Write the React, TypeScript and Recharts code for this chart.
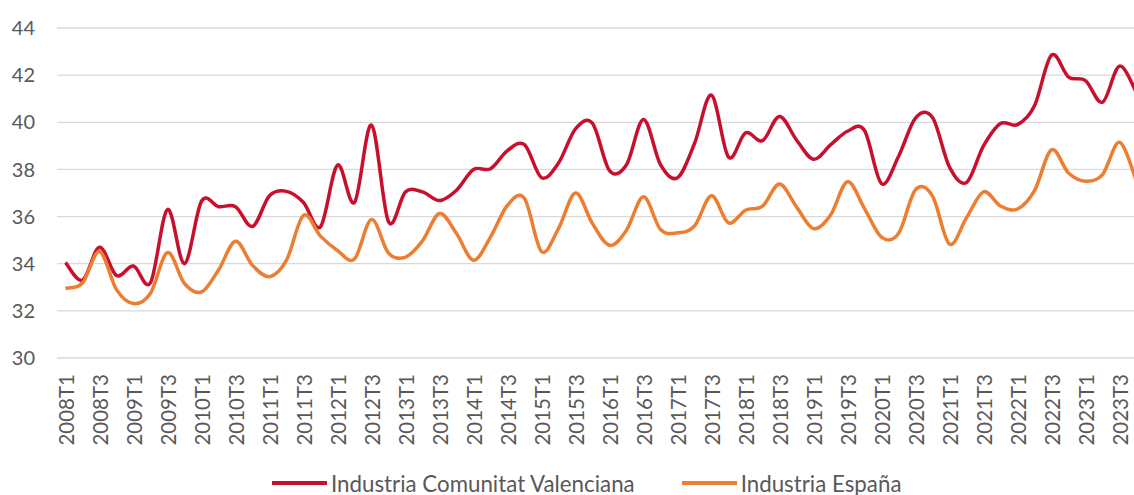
import { CartesianGrid, Legend, Line, LineChart, XAxis, YAxis } from "recharts";

const years = [2008, 2009, 2010, 2011, 2012, 2013, 2014, 2015, 2016, 2017, 2018, 2019, 2020, 2021, 2022, 2023];
const quarters = ["T1", "T2", "T3", "T4"];
const periods = years.flatMap((y) => quarters.map((q) => `${y}${q}`));

// Industria Comunitat Valenciana
const valencia = [
  34.05, 33.3, 34.7, 33.5, 33.9, 33.2, 36.3, 34.0,
  36.65, 36.42, 36.42, 35.58, 36.88, 37.07, 36.6, 35.57,
  38.18, 36.6, 39.88, 35.78, 37.05, 37.05, 36.68, 37.12,
  38.0, 38.03, 38.8, 39.05, 37.65, 38.27, 39.72, 39.95,
  37.95, 38.2, 40.12, 38.2, 37.65, 39.1, 41.15, 38.52,
  39.55, 39.22, 40.25, 39.25, 38.43, 39.04, 39.62, 39.65,
  37.4, 38.55, 40.18, 40.2, 38.1, 37.45, 39.0, 39.95,
  39.9, 40.7, 42.85, 41.92, 41.77, 40.85, 42.38, 41.25,
];

// Industria España
const espana = [
  32.95, 33.18, 34.52, 32.9, 32.31, 32.75, 34.47, 33.16,
  32.8, 33.73, 34.95, 33.93, 33.45, 34.15, 36.05, 35.17,
  34.56, 34.2, 35.88, 34.45, 34.28, 34.97, 36.13, 35.28,
  34.15, 35.13, 36.48, 36.77, 34.52, 35.49, 37.0, 35.7,
  34.78, 35.42, 36.84, 35.45, 35.31, 35.6, 36.88, 35.73,
  36.27, 36.44, 37.38, 36.41, 35.49, 36.06, 37.48, 36.34,
  35.13, 35.28, 37.14, 36.87, 34.83, 35.95, 37.05, 36.45,
  36.32, 37.1, 38.83, 37.85, 37.5, 37.78, 39.15, 37.5,
];

const yTicks = [30, 32, 34, 36, 38, 40, 42, 44];

const data = periods.map((period, i) => ({
  period,
  cv: valencia[i],
  es: espana[i],
}));

const FONT = "Lato, 'Open Sans', sans-serif";
const TEXT = "#595959";

// smoothed line like the spreadsheet one (catmull-rom, bezier handles at 1/6)
function smoothCurve(context: any) {
  let pts: number[][] = [];
  return {
    areaStart() {},
    areaEnd() {},
    lineStart() {
      pts = [];
    },
    point(x: number, y: number) {
      pts.push([+x, +y]);
    },
    lineEnd() {
      if (!pts.length) return;
      context.moveTo(pts[0][0], pts[0][1]);
      for (let i = 0; i < pts.length - 1; i++) {
        const p0 = pts[i - 1] || pts[i];
        const p1 = pts[i];
        const p2 = pts[i + 1];
        const p3 = pts[i + 2] || p2;
        context.bezierCurveTo(
          p1[0] + (p2[0] - p0[0]) / 6,
          p1[1] + (p2[1] - p0[1]) / 6,
          p2[0] - (p3[0] - p1[0]) / 6,
          p2[1] - (p3[1] - p1[1]) / 6,
          p2[0],
          p2[1]
        );
      }
    },
  };
}

function XTick({ x, y, payload }: any) {
  return (
    <g transform={`translate(${x},${y})`}>
      <text
        transform="rotate(-90)"
        textAnchor="end"
        dy="0.4em"
        fill={TEXT}
        fontSize={20.5}
        fontFamily={FONT}
      >
        {payload.value}
      </text>
    </g>
  );
}

function LegendContent({ payload }: any) {
  return (
    <div
      style={{
        height: 24,
        display: "flex",
        alignItems: "center",
        paddingLeft: 272,
        fontFamily: FONT,
        fontSize: 22.3,
        color: TEXT,
      }}
    >
      {(payload || []).map((p: any) => (
        <div key={p.value} style={{ display: "flex", alignItems: "center", marginRight: 47 }}>
          <span style={{ width: 55, height: 4, background: p.color, marginRight: 4 }} />
          <span>{p.value}</span>
        </div>
      ))}
    </div>
  );
}

export default function App() {
  return (
    <div
      style={{
        position: "absolute",
        left: 0,
        top: 0,
        width: 1134,
        height: 495,
        overflow: "hidden",
        background: "#fff",
      }}
    >
      <LineChart width={1150} height={495} data={data} margin={{ top: 28, right: 5, left: 0, bottom: 0 }}>
        <CartesianGrid stroke="#d9d9d9" strokeWidth={1.3} vertical={false} />
        <XAxis
          dataKey="period"
          scale="point"
          padding={{ left: 8.5, right: 8.5 }}
          interval={1}
          height={113}
          tickSize={0}
          tickMargin={16}
          axisLine={false}
          tickLine={false}
          tick={<XTick />}
        />
        <YAxis
          domain={[30, 44]}
          ticks={yTicks}
          width={57}
          tickSize={0}
          tickMargin={22}
          axisLine={false}
          tickLine={false}
          tick={{ fontSize: 20, fill: TEXT, fontFamily: FONT }}
        />
        <Legend verticalAlign="bottom" height={24} content={<LegendContent />} />
        <Line
          dataKey="cv"
          name="Industria Comunitat Valenciana"
          stroke="#c8102e"
          strokeWidth={3.5}
          type={smoothCurve as any}
          dot={false}
          activeDot={false}
          isAnimationActive={false}
        />
        <Line
          dataKey="es"
          name="Industria España"
          stroke="#ed7d31"
          strokeWidth={3.5}
          type={smoothCurve as any}
          dot={false}
          activeDot={false}
          isAnimationActive={false}
        />
      </LineChart>
    </div>
  );
}
